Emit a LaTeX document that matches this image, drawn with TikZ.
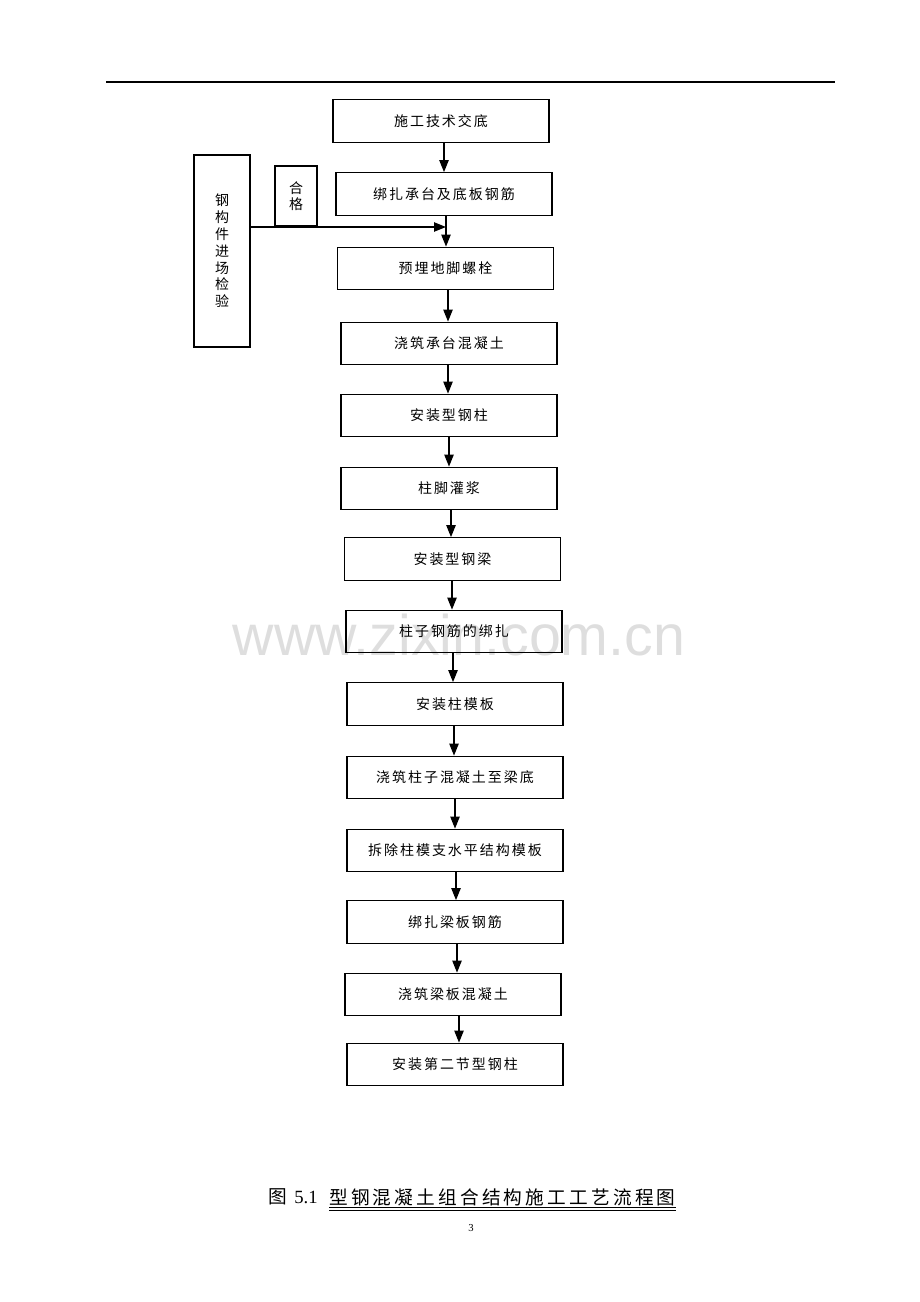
\documentclass[tikz,border=0pt]{standalone}
\usepackage{fontspec}
\setmainfont{Liberation Serif}
\newfontfamily\cjk[LetterSpace=14]{Noto Sans CJK SC}
\newfontfamily\cjkcap[LetterSpace=17]{Noto Sans CJK SC}
\newfontfamily\wmfont{Liberation Sans}
\usetikzlibrary{arrows.meta}
\begin{document}
\begin{tikzpicture}[x=0.75pt,y=-0.75pt,
  stepbox/.style={draw,line width=0.8pt,minimum width=162pt,minimum height=32pt,inner sep=0pt,font=\cjk\fontsize{10.5}{12}\selectfont},
  flow/.style={line width=1pt,-{Triangle[length=9pt,width=7pt]}}]
\useasboundingbox (0,0) rectangle (920,1302);
% watermark
\node[text=black!13,font=\wmfont\fontsize{43}{45}\selectfont] (wm) at (459,635) {www.zixin.com.cn};
% header rule
\draw[line width=1.2pt] (106,82) -- (835,82);
% main steps
\node[stepbox] (b1) at (441,121) {施工技术交底};
\node[stepbox] (b2) at (444,194) {绑扎承台及底板钢筋};
\node[stepbox] (b3) at (445.5,268.5) {预埋地脚螺栓};
\node[stepbox] (b4) at (449,343.5) {浇筑承台混凝土};
\node[stepbox] (b5) at (449,415.5) {安装型钢柱};
\node[stepbox] (b6) at (449,488.5) {柱脚灌浆};
\node[stepbox] (b7) at (452.5,559) {安装型钢梁};
\node[stepbox] (b8) at (454,631.5) {柱子钢筋的绑扎};
\node[stepbox] (b9) at (455,704) {安装柱模板};
\node[stepbox] (b10) at (455,777.5) {浇筑柱子混凝土至梁底};
\node[stepbox] (b11) at (455,850.5) {拆除柱模支水平结构模板};
\node[stepbox] (b12) at (455,922) {绑扎梁板钢筋};
\node[stepbox] (b13) at (453,994.5) {浇筑梁板混凝土};
\node[stepbox] (b14) at (455,1064.5) {安装第二节型钢柱};
% arrows
\foreach \a/\b/\x in {b1/b2/444,b2/b3/446,b3/b4/448,b4/b5/448,b5/b6/449,b6/b7/451,b7/b8/452,b8/b9/453,b9/b10/454,b10/b11/455,b11/b12/456,b12/b13/457,b13/b14/459}
  \draw[flow] (\a.south -| \x,0) -- (\b.north -| \x,0);
% side inspection
\node[draw,line width=0.8pt,minimum width=42pt,minimum height=144pt,inner sep=0pt,align=center,
  font=\cjk\fontsize{10.5}{12.6}\selectfont] (side) at (222,251) {钢\\构\\件\\进\\场\\检\\验};
\node[draw,line width=0.8pt,minimum width=31.5pt,minimum height=45pt,inner sep=0pt,align=center,
  font=\cjk\fontsize{10.5}{12}\selectfont] (ok) at (296,196) {合\\格};
\coordinate (join) at (446,227);
\draw[flow] (side.east |- join) -- (join);
% caption
\node[anchor=west,inner sep=0pt,font=\fontsize{14}{16}\selectfont] (cap1) at (268,1197) {\cjkcap 图\ \rmfamily 5.1};
\node[anchor=west,inner sep=0pt,font=\cjkcap\fontsize{14}{16}\selectfont] (cap2) at (329,1197) {型钢混凝土组合结构施工工艺流程图};
\draw[line width=0.6pt] (cap2.south west |- 0,1207.5) -- (cap2.south east |- 0,1207.5);
\draw[line width=0.6pt] (cap2.south west |- 0,1210.5) -- (cap2.south east |- 0,1210.5);
\node[font=\fontsize{8}{9}\selectfont] (pg) at (471,1228) {3};
\end{tikzpicture}
\end{document}
